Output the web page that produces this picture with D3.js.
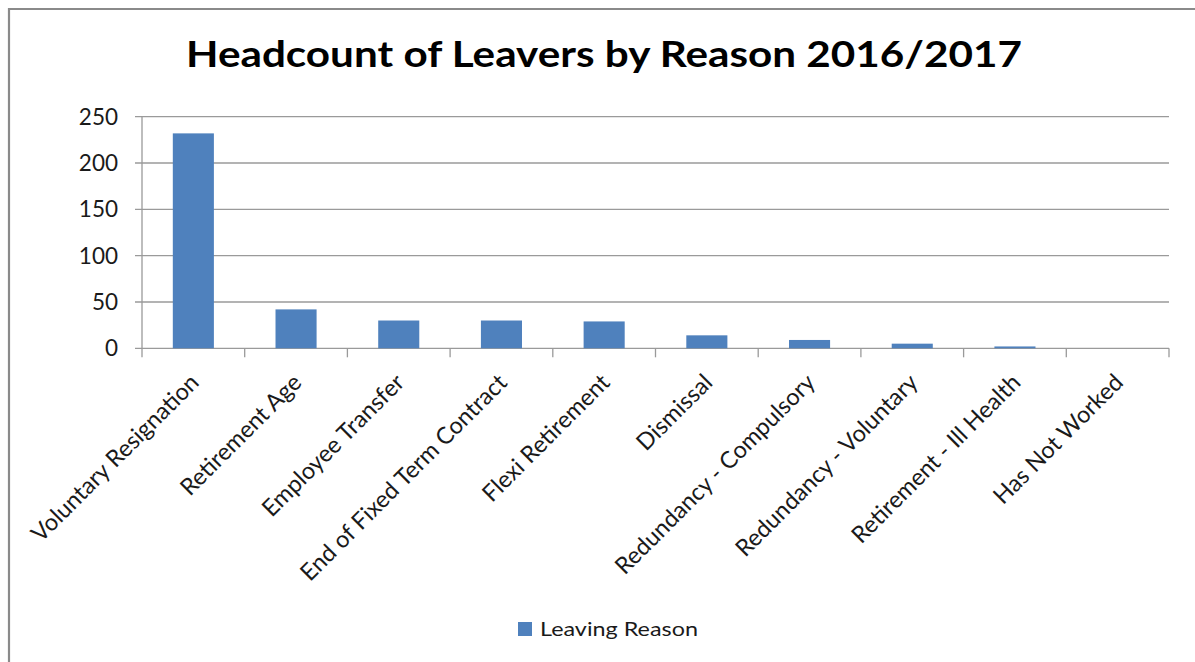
<!DOCTYPE html>
<html>
<head>
<meta charset="utf-8">
<script src="https://cdn.jsdelivr.net/npm/d3@7"></script>
<style>
  html, body { margin: 0; padding: 0; background: #fff; }
  svg { display: block; }
  text { font-family: Lato, "Open Sans", sans-serif; }
</style>
</head>
<body>
<svg id="chart" width="1195" height="662"></svg>
<script>
const title = "Headcount of Leavers by Reason 2016/2017";
const categories = [
  "Voluntary Resignation", "Retirement Age", "Employee Transfer",
  "End of Fixed Term Contract", "Flexi Retirement", "Dismissal",
  "Redundancy - Compulsory", "Redundancy - Voluntary",
  "Retirement - Ill Health", "Has Not Worked"
];
const values = [232, 42, 30, 30, 29, 14, 9, 5, 2, 0];
const yTicks = [0, 50, 100, 150, 200, 250];
const seriesName = "Leaving Reason";

const svg = d3.select("#chart");
const W = 1195, H = 662;
const plot = { left: 142, right: 1169, top: 116.7, bottom: 348.3 };
const barColor = "#4F81BD";
const gridColor = "#9a9a9a";

// outer frame
svg.append("path")
  .attr("d", `M9,${H} V9 H${W}`)
  .attr("fill", "none").attr("stroke", "#8a8a8a").attr("stroke-width", 2.2);

const x = d3.scaleBand().domain(categories)
  .range([plot.left, plot.right]).paddingInner(0.6).paddingOuter(0.3);
const y = d3.scaleLinear().domain([0, 250]).range([plot.bottom, plot.top]);

// gridlines + y tick marks
svg.append("g").selectAll("line").data(yTicks).join("line")
  .attr("x1", plot.left - 7).attr("x2", plot.right)
  .attr("y1", d => y(d)).attr("y2", d => y(d))
  .attr("stroke", gridColor).attr("stroke-width", 1.3);

// y axis line
svg.append("line")
  .attr("x1", plot.left).attr("x2", plot.left)
  .attr("y1", y(250)).attr("y2", y(0))
  .attr("stroke", gridColor).attr("stroke-width", 1.3);

// y tick labels
svg.append("g").selectAll("text").data(yTicks).join("text")
  .attr("x", 118).attr("y", d => y(d))
  .attr("dy", "0.36em")
  .attr("text-anchor", "end")
  .attr("font-size", 22.5)
  .attr("fill", "#1a1a1a")
  .text(d => d);

// x tick marks at band boundaries
const step = x.step();
const boundaries = d3.range(categories.length + 1).map(i => plot.left + i * step);
svg.append("g").selectAll("line").data(boundaries).join("line")
  .attr("x1", d => d).attr("x2", d => d)
  .attr("y1", y(0)).attr("y2", y(0) + 9)
  .attr("stroke", gridColor).attr("stroke-width", 1.3);

// bars
svg.append("g").selectAll("rect").data(values).join("rect")
  .attr("x", (d, i) => x(categories[i]))
  .attr("width", x.bandwidth())
  .attr("y", d => y(d))
  .attr("height", d => y(0) - y(d))
  .attr("fill", barColor);

// x labels
svg.append("g").selectAll("text").data(categories).join("text")
  .attr("transform", d => `translate(${x(d) + x.bandwidth() / 2 + 7},384) rotate(-45)`)
  .attr("text-anchor", "end")
  .attr("font-size", 23.5)
  .attr("fill", "#1a1a1a")
  .text(d => d);

// title
svg.append("text")
  .attr("x", 186).attr("y", 67)
  .attr("font-size", 36).attr("font-weight", "bold")
  .attr("fill", "#000")
  .attr("textLength", 836).attr("lengthAdjust", "spacingAndGlyphs")
  .text(title);

// legend
svg.append("rect")
  .attr("x", 518).attr("y", 622).attr("width", 14).attr("height", 14)
  .attr("fill", barColor);
svg.append("text")
  .attr("x", 540).attr("y", 636)
  .attr("font-size", 19)
  .attr("fill", "#1a1a1a")
  .attr("textLength", 158).attr("lengthAdjust", "spacingAndGlyphs")
  .text(seriesName);
</script>
</body>
</html>
